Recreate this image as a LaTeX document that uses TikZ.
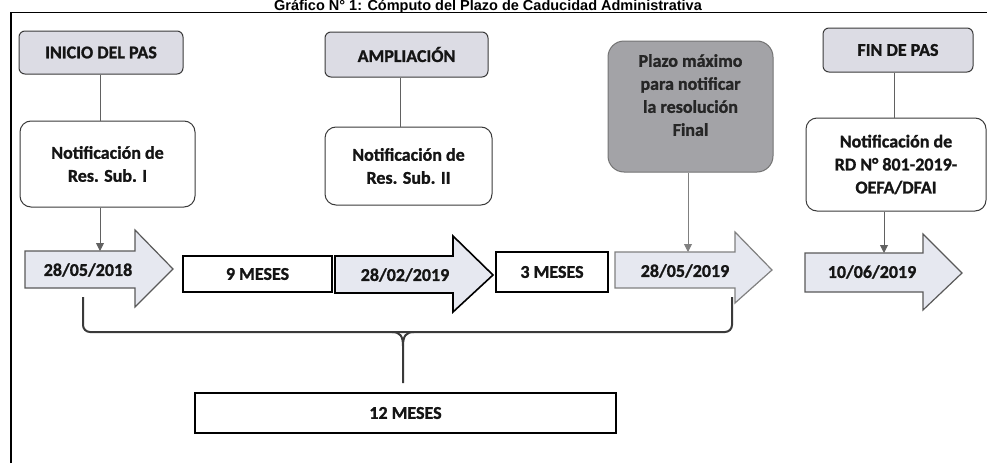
\documentclass[tikz,border=0pt]{standalone}
\usepackage{fontspec}
\setmainfont{Carlito}[BoldFeatures={FakeBold=1.2}]
\newfontfamily\titlefont{Liberation Sans}
\usepackage{xcolor}
\usepackage{tikz}
\usetikzlibrary{arrows.meta}

\definecolor{caja}{HTML}{DCDCE4}
\definecolor{flecha}{HTML}{E6E8F0}
\definecolor{plazo}{HTML}{A3A3A7}
\definecolor{borde}{HTML}{3A3A3A}
\definecolor{texto}{HTML}{151515}

\tikzset{
	etapa/.style={draw=borde,fill=caja,rounded corners=6pt,line width=1pt,minimum width=#1},
	notif/.style={draw=borde,fill=white,rounded corners=11pt,line width=1pt,align=center,minimum width=#1},
	periodo/.style={draw=black,fill=white,line width=1.3pt,minimum width=#1},
	linea/.style={draw=borde!80,line width=0.9pt},
	punta/.style={linea,-{Triangle[width=8pt,length=8pt]}}
}

\begin{document}
\begin{tikzpicture}[x=1pt,y=-1pt,font=\fontsize{18}{23}\selectfont\bfseries,text=texto]
	\useasboundingbox (0,0) rectangle (987,463);
	\clip (0,0) rectangle (987,463);
	
	\node[anchor=base,font=\titlefont\fontsize{14.5}{17}\selectfont\bfseries,text=black,inner sep=0pt] (titulo) at (488,10.5) {Gráfico N° 1: Cómputo del Plazo de Caducidad Administrativa};
	\draw[line width=1.6pt] (11,463) -- (11,12.5) -- (987,12.5);
	
	% etapas
	\node[etapa=164pt,minimum height=43pt] (inicio) at (101,52.5) {INICIO DEL PAS};
	\node[etapa=163pt,minimum height=45pt] (ampl) at (406.5,54.5) {AMPLIACIÓN};
	\node[etapa=150pt,minimum height=44pt] (fin) at (898,50) {FIN DE PAS};
	\node[draw=gray!90!black,fill=plazo,rounded corners=16pt,line width=1pt,minimum width=165pt,minimum height=131pt,align=center,text=black!85] (plazo) at (690.5,106.5) {Plazo máximo\\para notificar\\la resolución\\Final\\\mbox{}};
	
	\node[notif=175pt,minimum height=86pt] (resI) at (107.5,164) {Notificación de\\Res. Sub. I};
	\node[notif=167pt,minimum height=78pt] (resII) at (408.5,166) {Notificación de\\Res. Sub. II};
	\node[notif=180pt,minimum height=93pt] (rd) at (896,164.5) {Notificación de\\RD N° 801-2019-\\OEFA/DFAI};
	
	% llave de 12 meses
	\coordinate (llaveA) at (83,297);
	\coordinate (llaveB) at (732,297);
	\coordinate (llaveC) at (403,383);
	\draw[borde,line width=2pt,rounded corners=7pt] (llaveA) -- (llaveA |- 0,332) -- (llaveB |- 0,332) -- (llaveB);
	\draw[borde,line width=2pt] (llaveC) -- (403,346) .. controls (403,336) and (400,332) .. (392,332);
	\draw[borde,line width=2pt] (403,346) .. controls (403,336) and (406,332) .. (414,332);
	
	% flechas de fechas
	\draw[draw=gray!70!black,fill=flecha,line width=1.2pt] (25,251) -- (135,251) -- (135,230) -- (173,269) -- (135,307) -- (135,288) -- (25,288) -- cycle;
	\draw[draw=black,fill=flecha,line width=1.6pt] (335,256) -- (453,256) -- (453,236) -- (493,275) -- (453,312) -- (453,293) -- (335,293) -- cycle;
	\draw[draw=gray,fill=flecha,line width=1.2pt] (615,252) -- (735,252) -- (735,232) -- (772,270) -- (735,303) -- (735,288) -- (615,288) -- cycle;
	\draw[draw=gray!70!black,fill=flecha,line width=1.2pt] (805,253) -- (923,253) -- (923,234) -- (962,273) -- (923,310) -- (923,292) -- (805,292) -- cycle;
	
	\node (d1) at (88,270) {28/05/2018};
	\node (d2) at (405,275) {28/02/2019};
	\node (d3) at (685,271) {28/05/2019};
	\node (d4) at (872,272) {10/06/2019};
	
	\node[periodo=149pt,minimum height=36pt] (m9) at (257.5,274) {9 MESES};
	\node[periodo=112pt,minimum height=40pt] (m3) at (552,272) {3 MESES};
	\node[periodo=421pt,minimum height=40pt] (m12) at (405.5,413) {12 MESES};
	
	% conectores
	\coordinate (d1in) at (100,251);
	\coordinate (d3in) at (688,252);
	\coordinate (d4in) at (884,253);
	\draw[linea] (inicio.south -| d1in) -- (resI.north -| d1in);
	\draw[linea] (ampl.south -| 400,0) -- (resII.north -| 400,0);
	\draw[linea] (fin.south -| 894,0) -- (rd.north -| 894,0);
	\draw[punta] (resI.south -| d1in) -- (d1in);
	\draw[punta,draw=gray] (plazo.south -| d3in) -- (d3in);
	\draw[punta] (rd.south -| d4in) -- (d4in);
\end{tikzpicture}
\end{document}
